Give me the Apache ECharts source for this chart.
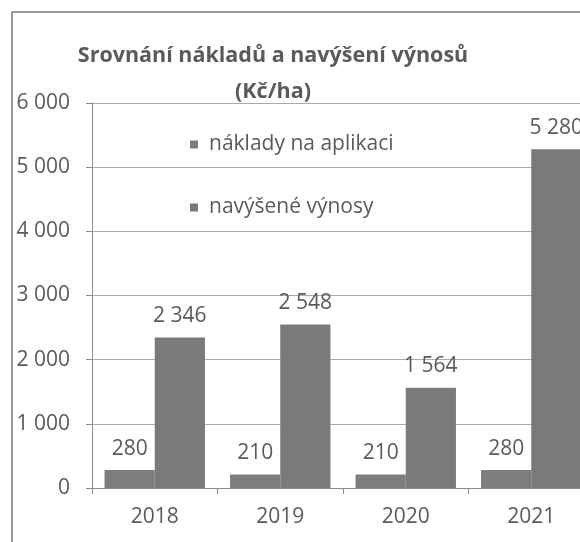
<!DOCTYPE html>
<html>
<head>
<meta charset="utf-8">
<script src="https://cdn.jsdelivr.net/npm/echarts@6/dist/echarts.min.js"></script>
<style>
  html, body { margin: 0; padding: 0; background: #fff; }
  #chart { width: 580px; height: 542px; }
</style>
</head>
<body>
<div id="chart"></div>
<script>
const years = ['2018', '2019', '2020', '2021'];
const naklady = [280, 210, 210, 280];
const vynosy = [2346, 2548, 1564, 5280];
const seriesNames = ['náklady na aplikaci', 'navýšené výnosy'];

const textColor = '#5a5a5a';
const fontFamily = '"Open Sans", sans-serif';

function fmt(v) {
    return String(v).replace(/\B(?=(\d{3})+(?!\d))/g, ' ');
}

const chart = echarts.init(document.getElementById('chart'));

const barLabel = {
    show: true,
    position: 'top',
    distance: 11,
    color: textColor,
    fontSize: 21,
    fontFamily: fontFamily,
    formatter: p => fmt(p.value)
};

chart.setOption({
    backgroundColor: '#fff',
    animation: false,
    textStyle: { fontFamily: fontFamily },
    title: {
        text: 'Srovnání nákladů a navýšení výnosů\n(Kč/ha)',
        left: 268,
        top: 33,
        textAlign: 'center',
        textStyle: {
            color: textColor,
            fontSize: 21.5,
            fontWeight: 'bold',
            lineHeight: 36,
            fontFamily: fontFamily
        }
    },
    legend: {
        orient: 'vertical',
        left: 185,
        top: 129,
        itemGap: 42,
        icon: 'rect',
        itemWidth: 8,
        itemHeight: 8,
        textStyle: { color: textColor, fontSize: 21, fontFamily: fontFamily, padding: [0, 0, 0, 6] },
        data: seriesNames
    },
    grid: { left: 92, top: 103, bottom: 54, width: 502, outerBoundsMode: 'none' },
    xAxis: {
        type: 'category',
        data: years,
        axisLine: { lineStyle: { color: '#8c8c8c' } },
        axisTick: { show: true, interval: 0, length: 6, lineStyle: { color: '#8c8c8c' } },
        axisLabel: { color: textColor, fontSize: 21, margin: 19, fontFamily: fontFamily }
    },
    yAxis: {
        type: 'value',
        min: 0,
        max: 6000,
        interval: 1000,
        axisLine: { show: true, lineStyle: { color: '#8c8c8c' } },
        axisTick: { show: true, length: 6, lineStyle: { color: '#8c8c8c' } },
        splitLine: { lineStyle: { color: '#a8a8b8' } },
        axisLabel: {
            color: textColor,
            fontSize: 21,
            margin: 22,
            fontFamily: fontFamily,
            formatter: v => fmt(v)
        }
    },
    series: [
        {
            name: seriesNames[0],
            type: 'bar',
            data: naklady,
            barGap: '0%',
            barCategoryGap: '20%',
            itemStyle: { color: '#7d7d7d' },
            label: barLabel
        },
        {
            name: seriesNames[1],
            type: 'bar',
            data: vynosy,
            itemStyle: { color: '#7a7a7a' },
            label: barLabel
        }
    ],
    graphic: [
        {
            type: 'polyline',
            shape: { points: [[12, 542], [12, 12], [580, 12]] },
            style: { stroke: '#9a9a9a', lineWidth: 2, fill: null },
            silent: true
        }
    ]
});
</script>
</body>
</html>
